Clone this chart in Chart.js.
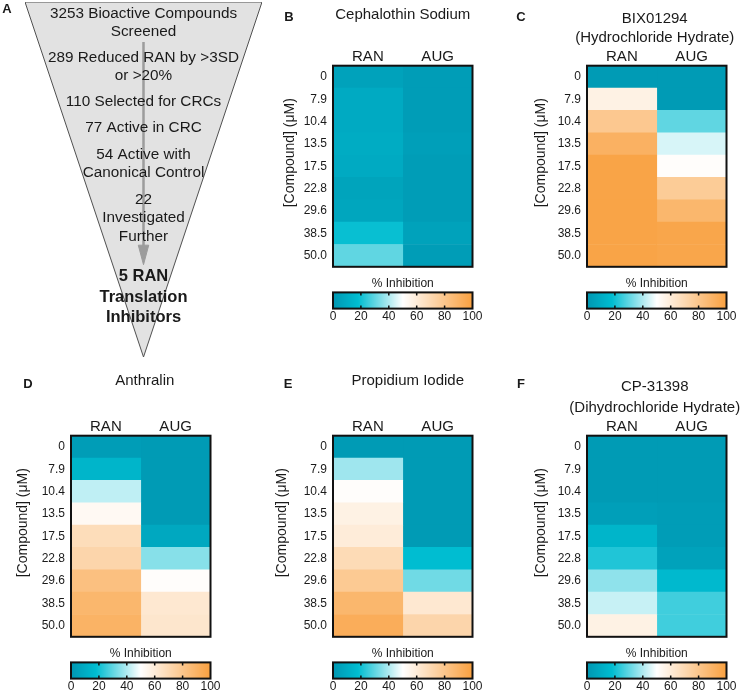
<!DOCTYPE html>
<html>
<head>
<meta charset="utf-8">
<script src="https://cdn.jsdelivr.net/npm/chart.js@4.4.1/dist/chart.umd.min.js"></script>
<style>
  body { margin: 0; background: #fff; }
  #fig { position: relative; width: 745px; height: 692px; overflow: hidden; }
  #fig canvas { position: absolute; }
</style>
</head>
<body>
<div id="fig"></div>
<script>
// concentrations in uM, top row first
const doses = ['0', '7.9', '10.4', '13.5', '17.5', '22.8', '29.6', '38.5', '50.0'];
const columns = ['RAN', 'AUG'];

// % inhibition
const cephRAN = [5, 9, 9, 10, 9, 6, 7, 19, 30];
const cephAUG = [3, 3, 3, 4, 3, 3, 3, 5, 3];
const bixRAN = [2, 57, 79, 91, 98, 98, 98, 98, 98];
const bixAUG = [2, 2, 30, 45, 51, 77, 88, 97, 97];
const anthRAN = [3, 14, 42, 53, 68, 72, 83, 88, 90];
const anthAUG = [2, 2, 2, 2, 8, 35, 51, 62, 63];
const propRAN = [2, 38, 51, 57, 60, 69, 78, 88, 93];
const propAUG = [2, 2, 2, 2, 2, 18, 32, 62, 72];
const cpRAN = [2, 2, 2, 4, 14, 22, 36, 43, 57];
const cpAUG = [2, 2, 2, 3, 3, 5, 16, 26, 26];

// colour bar
const barTicks = [0, 20, 40, 60, 80, 100];
const stopValues = [0, 18, 50, 100];
const stopColors = ['#0097b2', '#00bdd1', '#ffffff', '#f9a03f'];

// funnel (panel A), in funnel units: x -50..50, y 0 (top) .. 100 (tip)
const funnelX = [-50, 50, 0, -50];
const funnelY = [0, 0, 100, 0];
const arrowX = [0, 0];
const arrowY = [11.3, 70];
const headX = [-2.2, 2.2, 0, -2.2];
const headY = [68.5, 68.5, 74, 68.5];
const funnelLines = ['3253 Bioactive Compounds', 'Screened', '289 Reduced RAN by >3SD', 'or >20%',
  '110 Selected for CRCs', '77 Active in CRC', '54 Active with', 'Canonical Control',
  '22', 'Investigated', 'Further', '5 RAN', 'Translation', 'Inhibitors'];
const funnelLineY = [3.2, 8.5, 15.8, 20.8, 28.2, 35.5, 43.1, 48.2, 55.8, 60.8, 66.2, 77.2, 83.1, 89.0];
const boldFrom = 11;

Chart.defaults.font.family = 'Arial, "Liberation Sans", sans-serif';
Chart.defaults.color = '#1a1a1a';

const fig = document.getElementById('fig');
function addCanvas(left, top, w, h) {
  const c = document.createElement('canvas');
  c.width = w; c.height = h;
  c.style.left = left + 'px'; c.style.top = top + 'px';
  c.style.width = w + 'px'; c.style.height = h + 'px';
  fig.appendChild(c);
  return c;
}

function hexRgb(h) {
  return [1, 3, 5].map(i => parseInt(h.substr(i, 2), 16));
}
function toColor(v) {
  v = Math.max(stopValues[0], Math.min(stopValues[stopValues.length - 1], v));
  let i = 0;
  while (i < stopValues.length - 2 && v > stopValues[i + 1]) i++;
  const t = (v - stopValues[i]) / (stopValues[i + 1] - stopValues[i]);
  const a = hexRgb(stopColors[i]), b = hexRgb(stopColors[i + 1]);
  const c = a.map((x, k) => Math.round(x + (b[k] - x) * t));
  return 'rgb(' + c.join(',') + ')';
}

// black frame round the plot area
const frame = {
  id: 'frame',
  afterDatasetsDraw(chart) {
    const { ctx, chartArea: a } = chart;
    ctx.save();
    ctx.strokeStyle = '#111';
    ctx.lineWidth = 2;
    ctx.strokeRect(a.left, a.top, a.right - a.left, a.bottom - a.top);
    ctx.restore();
  }
};

// panel letter, compound name and y title
const panelText = {
  id: 'panelText',
  afterDraw(chart, args, o) {
    const { ctx, chartArea: a } = chart;
    ctx.save();
    ctx.fillStyle = '#1a1a1a';
    ctx.textAlign = 'center';
    ctx.textBaseline = 'middle';
    ctx.font = 'bold 13px Arial, "Liberation Sans", sans-serif';
    ctx.fillText(o.letter, a.left + o.letterDx, o.letterY);
    ctx.font = '15px Arial, "Liberation Sans", sans-serif';
    const cx = (a.left + a.right) / 2 + o.titleDx;
    o.title.forEach((t, i) => ctx.fillText(t, cx, o.titleY[i]));
    ctx.translate(a.left + o.yTitleDx, a.top + 87);
    ctx.rotate(-Math.PI / 2);
    ctx.font = '14px Arial, "Liberation Sans", sans-serif';
    ctx.fillText('[Compound] (\u03bcM)', 0, 0);
    ctx.restore();
  }
};

// little tick marks inside the colour bar
const barMarks = {
  id: 'barMarks',
  afterDatasetsDraw(chart) {
    const { ctx, chartArea: a, scales } = chart;
    ctx.save();
    ctx.strokeStyle = '#111';
    ctx.lineWidth = 1.5;
    barTicks.slice(1, -1).forEach(v => {
      const x = scales.x.getPixelForValue(v);
      ctx.beginPath();
      ctx.moveTo(x, a.top); ctx.lineTo(x, a.top + 3);
      ctx.moveTo(x, a.bottom); ctx.lineTo(x, a.bottom - 3);
      ctx.stroke();
    });
    ctx.restore();
  }
};

function heatmap(p) {
  const vals = [p.ran, p.aug];
  const el = addCanvas(p.boxLeft - 72, p.rowTop, 230, 280);
  return new Chart(el, {
    type: 'bar',
    data: {
      labels: doses,
      datasets: columns.map((c, i) => ({
        label: c,
        data: doses.map(() => 1),
        backgroundColor: vals[i].map(toColor),
        borderWidth: 0,
        barPercentage: 1,
        categoryPercentage: 1
      }))
    },
    options: {
      indexAxis: 'y',
      responsive: false,
      animation: false,
      layout: { padding: { left: 12, right: 18.5, top: 45.7, bottom: 5 } },
      plugins: {
        legend: { display: false },
        tooltip: { enabled: false },
        panelText: p.text
      },
      scales: {
        x: {
          stacked: true, position: 'top', min: 0, max: 2,
          grid: { display: false, drawTicks: false }, border: { display: false },
          afterBuildTicks: s => { s.ticks = [{ value: 0.5 }, { value: 1.5 }]; },
          afterFit: s => { s.height = 20; },
          ticks: { callback: v => columns[Math.floor(v)], font: { size: 15 }, padding: 0, maxRotation: 0 }
        },
        y: {
          stacked: true,
          grid: { display: false, drawTicks: false }, border: { display: false },
          afterFit: s => { s.width = 60; },
          ticks: { font: { size: 12 }, padding: 6 }
        }
      }
    },
    plugins: [frame, panelText]
  });
}

function colorBar(p) {
  const el = addCanvas(p.boxLeft - 12, p.rowTop + 276, 170, 49);
  return new Chart(el, {
    type: 'bar',
    data: {
      labels: [''],
      datasets: [{
        data: [[barTicks[0], barTicks[barTicks.length - 1]]],
        backgroundColor: c => {
          const ch = c.chart;
          if (!ch.chartArea) return stopColors[0];
          const x = ch.scales.x;
          const g = ch.ctx.createLinearGradient(x.getPixelForValue(0), 0, x.getPixelForValue(100), 0);
          stopValues.forEach((v, i) => g.addColorStop(v / 100, stopColors[i]));
          return g;
        },
        borderWidth: 0,
        barPercentage: 1,
        categoryPercentage: 1
      }]
    },
    options: {
      indexAxis: 'y',
      responsive: false,
      animation: false,
      layout: { padding: { left: 12, right: 18.5, top: 0, bottom: 0 } },
      plugins: {
        legend: { display: false },
        tooltip: { enabled: false },
        title: { display: true, text: '% Inhibition', font: { size: 12, weight: 'normal' }, color: '#1a1a1a', padding: { top: 0, bottom: 2 } }
      },
      scales: {
        x: {
          min: 0, max: 100,
          grid: { display: false, drawTicks: false }, border: { display: false },
          afterBuildTicks: s => { s.ticks = barTicks.map(v => ({ value: v })); },
          ticks: { font: { size: 12 }, padding: 1, maxRotation: 0, autoSkip: false }
        },
        y: { display: false }
      }
    },
    plugins: [frame, barMarks]
  });
}

const panels = [
  { ran: cephRAN, aug: cephAUG, boxLeft: 333, rowTop: 0,
    text: { letter: 'B', letterDx: -44, letterY: 17.5, title: ['Cephalothin Sodium'], titleY: [15], titleDx: 0, yTitleDx: -43 } },
  { ran: bixRAN, aug: bixAUG, boxLeft: 587, rowTop: 0,
    text: { letter: 'C', letterDx: -66, letterY: 17.5, title: ['BIX01294', '(Hydrochloride Hydrate)'], titleY: [19, 38], titleDx: -2, yTitleDx: -46 } },
  { ran: anthRAN, aug: anthAUG, boxLeft: 71, rowTop: 370,
    text: { letter: 'D', letterDx: -43, letterY: 14, title: ['Anthralin'], titleY: [11], titleDx: 4, yTitleDx: -48 } },
  { ran: propRAN, aug: propAUG, boxLeft: 333, rowTop: 370,
    text: { letter: 'E', letterDx: -45, letterY: 14, title: ['Propidium Iodide'], titleY: [11], titleDx: 5, yTitleDx: -51 } },
  { ran: cpRAN, aug: cpAUG, boxLeft: 587, rowTop: 370,
    text: { letter: 'F', letterDx: -66, letterY: 14, title: ['CP-31398', '(Dihydrochloride Hydrate)'], titleY: [17, 38], titleDx: -2, yTitleDx: -46 } }
];
panels.forEach(p => { heatmap(p); colorBar(p); });

// panel A: the screening funnel
const funnelText = {
  id: 'funnelText',
  afterDatasetsDraw(chart) {
    const { ctx, scales } = chart;
    ctx.save();
    ctx.fillStyle = '#1a1a1a';
    ctx.textAlign = 'center';
    ctx.textBaseline = 'middle';
    funnelLines.forEach((t, i) => {
      ctx.font = i >= boldFrom ? 'bold 16.5px Arial, "Liberation Sans", sans-serif' : '15.3px Arial, "Liberation Sans", sans-serif';
      ctx.fillText(t, scales.x.getPixelForValue(0), scales.y.getPixelForValue(funnelLineY[i]));
    });
    ctx.font = 'bold 13px Arial, "Liberation Sans", sans-serif';
    ctx.fillText('A', 7, 9);
    ctx.restore();
  }
};

const pts = (xs, ys) => xs.map((x, i) => ({ x, y: ys[i] }));
new Chart(addCanvas(0, 0, 280, 370), {
  type: 'scatter',
  data: {
    datasets: [
      { data: pts(funnelX, funnelY), showLine: true, fill: 'shape', backgroundColor: '#e2e2e2',
        borderColor: '#505050', borderWidth: 1, pointRadius: 0, order: 3 },
      { data: pts(arrowX, arrowY), showLine: true, borderColor: '#9c9c9c', borderWidth: 2.5,
        pointRadius: 0, order: 2 },
      { data: pts(headX, headY), showLine: true, fill: 'shape', backgroundColor: '#9c9c9c',
        borderColor: '#9c9c9c', borderWidth: 1, pointRadius: 0, order: 1 }
    ]
  },
  options: {
    responsive: false,
    animation: false,
    layout: { padding: { left: 25, right: 18, top: 2, bottom: 13 } },
    plugins: { legend: { display: false }, tooltip: { enabled: false } },
    scales: {
      x: { min: -50, max: 50, display: false },
      y: { min: 0, max: 100, reverse: true, display: false }
    }
  },
  plugins: [funnelText]
});
</script>
</body>
</html>
